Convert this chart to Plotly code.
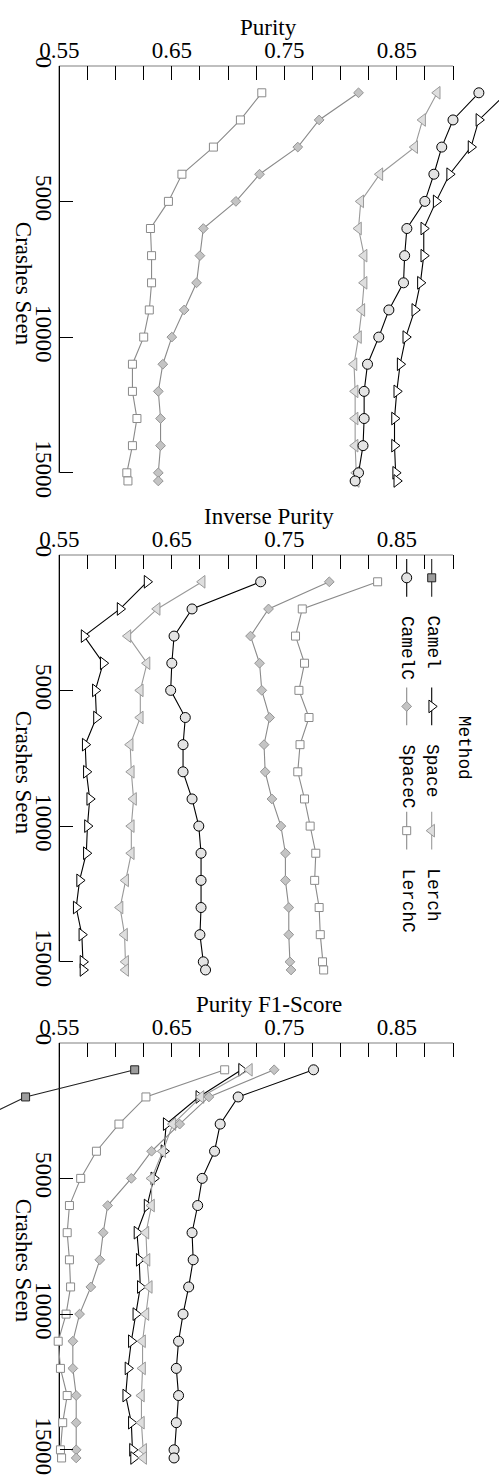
import plotly.graph_objects as go

# ---------------- data ----------------
crashes = [1000, 2000, 3000, 4000, 5000, 6000, 7000, 8000,
           9000, 10000, 11000, 12000, 13000, 14000, 15000, 15300]

methods = ["Camel", "Space", "Lerch", "CamelC", "SpaceC", "LerchC"]

# Purity
purity_camel = [1.000, 1.000, 1.000, 1.000, 1.000, 1.000, 1.000, 1.000,
                1.000, 1.000, 1.000, 1.000, 1.000, 1.000, 1.000, 1.000]
purity_space = [0.948, 0.923, 0.916, 0.897, 0.885, 0.874, 0.874, 0.871,
                0.866, 0.858, 0.853, 0.850, 0.848, 0.848, 0.849, 0.850]
purity_lerch = [0.886, 0.873, 0.866, 0.835, 0.818, 0.816, 0.821, 0.821,
                0.819, 0.816, 0.812, 0.813, 0.813, 0.813, 0.814, 0.814]
purity_camelc = [0.923, 0.900, 0.890, 0.883, 0.875, 0.859, 0.857, 0.856,
                 0.843, 0.834, 0.824, 0.821, 0.821, 0.820, 0.816, 0.813]
purity_spacec = [0.816, 0.781, 0.762, 0.728, 0.707, 0.678, 0.675, 0.672,
                 0.661, 0.650, 0.642, 0.638, 0.640, 0.640, 0.638, 0.638]
purity_lerchc = [0.730, 0.711, 0.687, 0.659, 0.647, 0.631, 0.632, 0.632,
                 0.630, 0.625, 0.615, 0.615, 0.619, 0.615, 0.610, 0.611]

# Inverse purity
inverse_camel = [0.449, 0.351, 0.307, 0.281, 0.262, 0.246, 0.233, 0.221,
                 0.211, 0.202, 0.194, 0.187, 0.180, 0.174, 0.168, 0.167]
inverse_space = [0.628, 0.604, 0.572, 0.589, 0.582, 0.583, 0.573, 0.574,
                 0.577, 0.575, 0.574, 0.568, 0.565, 0.570, 0.571, 0.571]
inverse_lerch = [0.677, 0.637, 0.611, 0.628, 0.622, 0.622, 0.613, 0.614,
                 0.616, 0.614, 0.614, 0.609, 0.604, 0.608, 0.609, 0.609]
inverse_camelc = [0.729, 0.668, 0.652, 0.650, 0.649, 0.662, 0.660, 0.660,
                  0.668, 0.674, 0.676, 0.676, 0.676, 0.675, 0.678, 0.680]
inverse_spacec = [0.790, 0.736, 0.720, 0.728, 0.730, 0.737, 0.732, 0.733,
                  0.739, 0.747, 0.751, 0.751, 0.754, 0.754, 0.755, 0.756]
inverse_lerchc = [0.833, 0.766, 0.760, 0.768, 0.763, 0.772, 0.764, 0.762,
                  0.768, 0.773, 0.778, 0.777, 0.781, 0.782, 0.784, 0.785]

# Purity F1-score
f1_camel = [0.617, 0.520, 0.470, 0.438, 0.413, 0.394, 0.377, 0.361,
            0.347, 0.333, 0.324, 0.314, 0.305, 0.297, 0.288, 0.286]
f1_space = [0.712, 0.674, 0.645, 0.643, 0.634, 0.628, 0.619, 0.621,
            0.622, 0.618, 0.614, 0.611, 0.609, 0.614, 0.615, 0.616]
f1_lerch = [0.719, 0.676, 0.651, 0.642, 0.632, 0.632, 0.627, 0.628,
            0.630, 0.627, 0.624, 0.624, 0.623, 0.623, 0.625, 0.625]
f1_camelc = [0.776, 0.709, 0.693, 0.688, 0.677, 0.673, 0.668, 0.669,
             0.665, 0.660, 0.656, 0.654, 0.656, 0.654, 0.652, 0.652]
f1_spacec = [0.741, 0.683, 0.657, 0.632, 0.614, 0.593, 0.589, 0.586,
             0.578, 0.568, 0.562, 0.562, 0.565, 0.565, 0.565, 0.565]
f1_lerchc = [0.697, 0.627, 0.603, 0.583, 0.569, 0.559, 0.557, 0.559,
             0.560, 0.556, 0.549, 0.551, 0.557, 0.553, 0.551, 0.552]

panel_titles = ["Purity", "Inverse Purity", "Purity F1-Score"]
panel_series = [
    [purity_camel, purity_space, purity_lerch, purity_camelc, purity_spacec, purity_lerchc],
    [inverse_camel, inverse_space, inverse_lerch, inverse_camelc, inverse_spacec, inverse_lerchc],
    [f1_camel, f1_space, f1_lerch, f1_camelc, f1_spacec, f1_lerchc],
]

x_tick_vals = [0.55, 0.575, 0.60, 0.625, 0.65, 0.675, 0.70, 0.725,
               0.75, 0.775, 0.80, 0.825, 0.85, 0.875, 0.90]
x_tick_text = ["0.55", "", "", "", "0.65", "", "", "",
               "0.75", "", "", "", "0.85", "", ""]
y_tick_vals = [0, 5000, 10000, 15000]
y_tick_text = ["0", "5000", "10000", "15000"]
y_axis_title = "Crashes Seen"
legend_title = "Method"

# ---------------- styles ----------------
styles = {
    "Camel":  dict(symbol="square", size=8, fill="#9c9c9c", edge="#222222", line="#222222"),
    "Space":  dict(symbol="triangle-right", size=11, fill="#ffffff", edge="#000000", line="#000000"),
    "Lerch":  dict(symbol="triangle-left", size=11, fill="#dedede", edge="#9a9a9a", line="#9a9a9a"),
    "CamelC": dict(symbol="circle", size=10, fill="#e4e4e4", edge="#000000", line="#000000"),
    "SpaceC": dict(symbol="diamond", size=7.5, fill="#c4c4c4", edge="#949494", line="#8a8a8a"),
    "LerchC": dict(symbol="square", size=8, fill="#ffffff", edge="#8a8a8a", line="#8a8a8a"),
}

W, H = 499, 1477
SERIF = "Liberation Serif, DejaVu Serif, serif"
MONO = "Liberation Mono, DejaVu Sans Mono, monospace"
FS = 23

# geometry (pixels)
x_left_px, x_right_px = 59.33, 453.0       # positions of 0.55 and 0.90
x_left_val, x_right_val = 0.55, 0.90
panel_top_px = [57.0, 549.0, 1040.0]
px_per_crash = 27.31 / 1000.0
y_max = 16000

k = (x_right_val - x_left_val) / (x_right_px - x_left_px)
x_range = [x_left_val - x_left_px * k, x_left_val + (W - x_left_px) * k]

fig = go.Figure()
layout = dict(
    width=W, height=H, margin=dict(l=0, r=0, t=0, b=0),
    paper_bgcolor="white", plot_bgcolor="rgba(0,0,0,0)",
    showlegend=False, font=dict(family=SERIF, size=FS, color="black"),
)
shapes = []
annotations = []

for p in range(3):
    n = "" if p == 0 else str(p + 1)
    top = panel_top_px[p]
    bottom = top + y_max * px_per_crash
    ydom = [max(0.0, 1 - bottom / H), 1 - top / H]
    layout["xaxis" + n] = dict(
        domain=[0, 1], range=x_range, anchor="y" + n, side="top",
        showgrid=False, zeroline=False, showline=False,
        tickmode="array", tickvals=x_tick_vals, ticktext=x_tick_text,
        ticks="inside", ticklen=14, tickwidth=1.2, tickcolor="black",
        tickfont=dict(family=SERIF, size=FS, color="black"),
        ticklabelstandoff=2,
    )
    layout["yaxis" + n] = dict(
        domain=ydom, range=[y_max, 0], anchor="free",
        position=x_left_px / W, side="left",
        showgrid=False, zeroline=False, showline=False,
        tickmode="array", tickvals=y_tick_vals, ticktext=y_tick_text,
        ticks="inside", ticklen=13, tickwidth=1.2, tickcolor="black",
        tickangle=90,
        tickfont=dict(family=SERIF, size=FS, color="black"),
    )
    xr, yr = "x" + n, "y" + n
    # spines (top and left)
    shapes.append(dict(type="line", xref=xr, yref=yr, x0=x_left_val, x1=x_right_val,
                       y0=0, y1=0, line=dict(color="black", width=1.3), layer="below"))
    shapes.append(dict(type="line", xref=xr, yref=yr, x0=x_left_val, x1=x_left_val,
                       y0=0, y1=y_tick_vals[-1], line=dict(color="black", width=1.3), layer="below"))
    # axis titles
    annotations.append(dict(text=panel_titles[p], xref="paper", yref="paper",
                            x=268.5 / W, y=1 - (top - 38.0) / H, xanchor="center", yanchor="middle",
                            showarrow=False, font=dict(family=SERIF, size=FS, color="black")))
    annotations.append(dict(text=y_axis_title, xref="paper", yref="paper",
                            x=23.0 / W, y=1 - (top + 219.5) / H, xanchor="center", yanchor="middle",
                            textangle=90, showarrow=False,
                            font=dict(family=SERIF, size=FS, color="black")))
    for m, vals in zip(methods, panel_series[p]):
        s = styles[m]
        fig.add_trace(go.Scatter(
            x=vals, y=crashes, xaxis=xr, yaxis=yr, mode="lines+markers",
            cliponaxis=False, name=m,
            line=dict(color=s["line"], width=1.1),
            marker=dict(symbol=s["symbol"], size=s["size"], color=s["fill"],
                        line=dict(color=s["edge"], width=1.0)),
        ))

# ---------------- rotated legend (in panel 2) ----------------
layout["xaxis4"] = dict(domain=[0, 1], range=[0, W], visible=False, fixedrange=True)
layout["yaxis4"] = dict(domain=[0, 1], range=[H, 0], visible=False, fixedrange=True, anchor="x4")
leg_col_x = [431.7, 406.7]
leg_row_y = [572.3, 701.7, 826.7]
leg_half = 19.0
leg_text_gap = 36.0
for j, m in enumerate(methods):
    s = styles[m]
    cx = leg_col_x[j // 3]
    cy = leg_row_y[j % 3]
    fig.add_trace(go.Scatter(x=[cx, cx], y=[cy - leg_half, cy + leg_half], xaxis="x4", yaxis="y4",
                             mode="lines", line=dict(color=s["line"], width=1.1),
                             hoverinfo="skip", cliponaxis=False))
    fig.add_trace(go.Scatter(x=[cx], y=[cy], xaxis="x4", yaxis="y4", mode="markers",
                             marker=dict(symbol=s["symbol"], size=s["size"], color=s["fill"],
                                         line=dict(color=s["edge"], width=1.0)),
                             hoverinfo="skip", cliponaxis=False))
    annotations.append(dict(text=m, xref="paper", yref="paper",
                            x=(cx + 1.0) / W, y=1 - (cy + leg_text_gap) / H,
                            xanchor="center", yanchor="top", textangle=90, showarrow=False,
                            font=dict(family=MONO, size=17.8, color="black")))
annotations.append(dict(text=legend_title, xref="paper", yref="paper",
                        x=464.0 / W, y=1 - 743.3 / H, xanchor="center", yanchor="middle",
                        textangle=90, showarrow=False,
                        font=dict(family=MONO, size=17.8, color="black")))

layout["shapes"] = shapes
layout["annotations"] = annotations
fig.update_layout(**layout)
fig.write_html(
    "out.html",
    post_script="document.documentElement.style.margin='0';document.body.style.margin='0';"
                "document.body.style.padding='0';document.body.style.overflow='hidden';",
)
